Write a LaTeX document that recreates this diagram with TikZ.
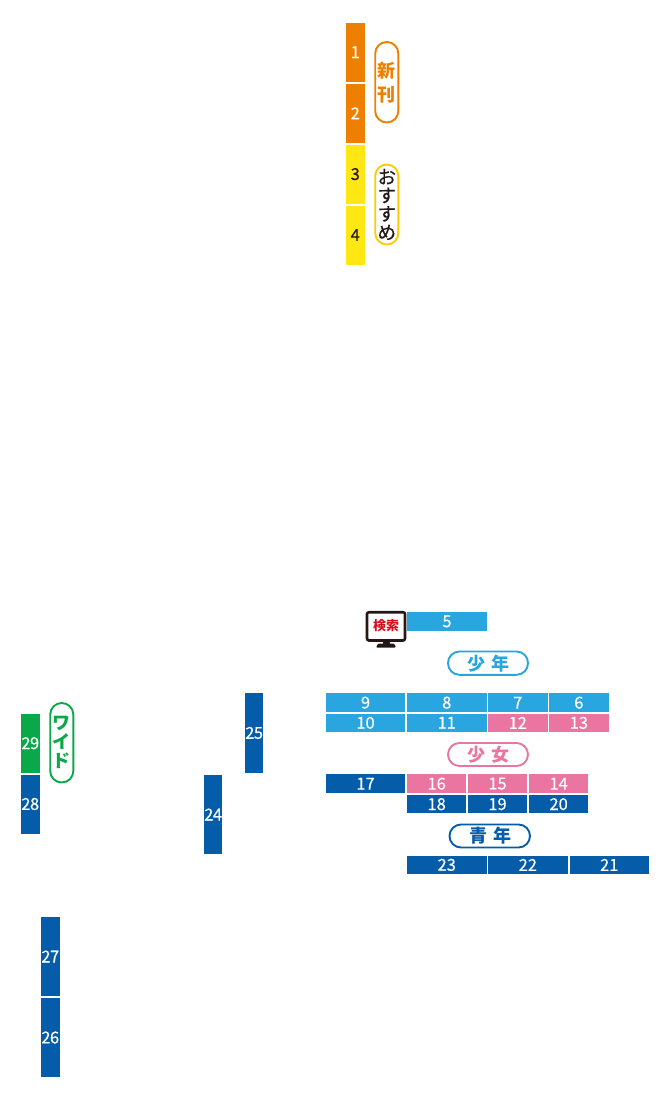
\documentclass[tikz,border=0pt]{standalone}
\usepackage{fontspec}
\setmainfont{Noto Sans}
\newfontfamily\cjk{Noto Sans CJK JP}
\newfontfamily\numf[FakeBold=0.25]{Noto Sans CJK JP}
\newfontfamily\numn[FakeBold=0.25,LetterSpace=-3]{Noto Sans CJK JP}
\newfontfamily\kanaf[FakeBold=0.5]{Noto Sans CJK JP}
\definecolor{cOrange}{HTML}{EE7F00}
\definecolor{cYellow}{HTML}{FFE714}
\definecolor{cSky}{HTML}{29A6E0}
\definecolor{cPink}{HTML}{EB75A1}
\definecolor{cNavy}{HTML}{055DA9}
\definecolor{cGreen}{HTML}{0BA84A}
\definecolor{cGold}{HTML}{FFCC00}
\definecolor{cRed}{HTML}{D7101E}
\definecolor{cDark}{HTML}{231815}
\tikzset{
  barbox/.style={inner sep=0pt,outer sep=0pt,draw=none,text=white,font=\numf\fontsize{16.5}{16.5}\selectfont},
  narrowbox/.style={barbox,font=\numn\fontsize{16.5}{16.5}\selectfont},
  pillbox/.style={rounded corners=11.5pt,line width=1.9pt,fill=white},
  pilltext/.style={inner sep=0pt,font=\cjk\bfseries\fontsize{18}{19}\selectfont,align=center},
}
% name, x1, y1, x2, y2, colour, label
\newcommand{\bx}[7]{%
  \pgfmathsetmacro{\bw}{#4-#2}\pgfmathsetmacro{\bh}{#5-#3}%
  \pgfmathsetmacro{\cx}{(#4+#2)/2}\pgfmathsetmacro{\cy}{(#5+#3)/2}%
  \node[barbox,fill=#6,minimum width=\bw pt,minimum height=\bh pt] (#1) at (\cx,\cy) {#7};}
\newcommand{\bxn}[7]{%
  \pgfmathsetmacro{\bw}{#4-#2}\pgfmathsetmacro{\bh}{#5-#3}%
  \pgfmathsetmacro{\cx}{(#4+#2)/2}\pgfmathsetmacro{\cy}{(#5+#3)/2}%
  \node[narrowbox,fill=#6,minimum width=\bw pt,minimum height=\bh pt] (#1) at (\cx,\cy) {#7};}
\begin{document}
\begin{tikzpicture}[x=1pt,y=-1pt]
\useasboundingbox (0,0) rectangle (670,1100);
% top column
\bx{b1}{346}{22.5}{364.5}{81.8}{cOrange}{1}
\bx{b2}{346}{83.5}{364.5}{143}{cOrange}{2}
\bx{b3}{346}{144.5}{364.5}{203.7}{cYellow}{\textcolor{cDark}{3}}
\bx{b4}{346}{205.5}{364.5}{264.5}{cYellow}{\textcolor{cDark}{4}}
\draw[pillbox,draw=cOrange] (375.2,42) rectangle (398.3,122.5);
\node[pilltext,text=cOrange,font=\cjk\bfseries\fontsize{18}{23.5}\selectfont] (p1) at (386.8,82.5) {新\\刊};
\draw[pillbox,draw=cGold] (375.2,164.5) rectangle (398.3,244.5);
\node[pilltext,text=cDark,font=\kanaf\fontsize{18.5}{18.5}\selectfont] (p2) at (386.8,204.5) {お\\す\\す\\め};
% search
\bx{b5}{407.3}{612}{486.7}{630.7}{cSky}{5}
\fill[cDark] (382.5,640) rectangle (389.5,644);
\fill[cDark,rounded corners=1pt] (376,647.5) -- (378,643.5) -- (394,643.5) -- (396,647.5) -- cycle;
\draw[cDark,line width=2.6pt,fill=white,rounded corners=2pt] (367,612.2) rectangle (405,640.5);
\node[inner sep=0pt,text=cRed,font=\cjk\bfseries\fontsize{13}{13}\selectfont] (mon) at (386,626) {検索};
% shonen
\draw[pillbox,draw=cSky] (448,651.5) rectangle (528,674.8);
\node[pilltext,text=cSky] (p3) at (488.5,663.5) {少\hspace{6pt}年};
\bx{b9}{325.7}{693.3}{405.3}{712}{cSky}{9}
\bx{b8}{407}{693.3}{486.5}{712}{cSky}{8}
\bx{b7}{488}{693.3}{547.5}{712}{cSky}{7}
\bx{b6}{549}{693.3}{608.7}{712}{cSky}{6}
\bx{b10}{325.7}{713.7}{405.3}{732}{cSky}{10}
\bx{b11}{407}{713.7}{486.5}{732}{cSky}{11}
\bx{b12}{488}{713.7}{547.5}{732}{cPink}{12}
\bx{b13}{549}{713.7}{608.7}{732}{cPink}{13}
% shojo
\draw[pillbox,draw=cPink] (448,743) rectangle (528,766);
\node[pilltext,text=cPink] (p4) at (488.5,754.5) {少\hspace{6pt}女};
\bx{b17}{325.7}{774.3}{405.3}{793}{cNavy}{17}
\bx{b16}{407}{774.3}{466.3}{793}{cPink}{16}
\bx{b15}{468}{774.3}{527}{793}{cPink}{15}
\bx{b14}{529}{774.3}{588.3}{793}{cPink}{14}
\bx{b18}{407}{795}{466.3}{813.3}{cNavy}{18}
\bx{b19}{468}{795}{527}{813.3}{cNavy}{19}
\bx{b20}{529}{795}{588.3}{813.3}{cNavy}{20}
% seinen
\draw[pillbox,draw=cNavy] (449.5,824.5) rectangle (530,847.5);
\node[pilltext,text=cNavy] (p5) at (490,836) {青\hspace{6pt}年};
\bx{b23}{407}{855.7}{486.5}{874}{cNavy}{23}
\bx{b22}{488}{855.7}{567.7}{874}{cNavy}{22}
\bx{b21}{569.5}{855.7}{649}{874}{cNavy}{21}
% verticals
\bxn{b25}{245}{693.3}{263.3}{772.5}{cNavy}{25}
\bxn{b24}{204}{775}{222.3}{854}{cNavy}{24}
\bxn{b29}{21}{713.5}{39.5}{773}{cGreen}{29}
\bxn{b28}{21}{774.5}{39.5}{833.5}{cNavy}{28}
\bxn{b27}{41}{917}{59.5}{996}{cNavy}{27}
\bxn{b26}{41}{998}{59.5}{1077}{cNavy}{26}
\draw[pillbox,draw=cGreen] (50.2,703) rectangle (73.3,782.5);
\node[pilltext,text=cGreen,font=\cjk\bfseries\fontsize{18}{19}\selectfont] (p6) at (61.8,742.5) {ワ\\イ\\ド};
\end{tikzpicture}
\end{document}
